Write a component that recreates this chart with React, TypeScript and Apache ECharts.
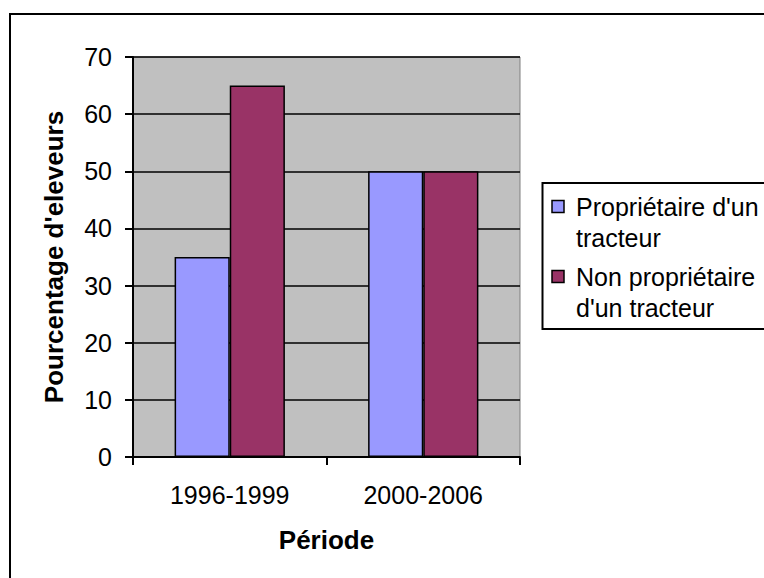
import React, { useEffect, useRef } from "react";
import * as echarts from "echarts";

const categories = ["1996-1999", "2000-2006"];
const seriesNames = ["Propriétaire d'un tracteur", "Non propriétaire d'un tracteur"];
const legendLabels = ["Propriétaire d'un\ntracteur", "Non propriétaire\nd'un tracteur"];
const seriesColors = ["#9999FF", "#993366"];
const ownerValues = [35, 50];
const nonOwnerValues = [65, 50];
const yTitle = "Pourcentage d'eleveurs";
const xTitle = "Période";

const FONT = "'Liberation Sans', Arial, sans-serif";

export default function App() {
  const ref = useRef<HTMLDivElement>(null);
  useEffect(() => {
    if (!ref.current) return;
    const chart = echarts.init(ref.current, undefined, { renderer: "svg" });
    const seriesData = [ownerValues, nonOwnerValues];

    const legendGraphics: any[] = [
      {
        type: "rect",
        shape: { x: 542.5, y: 183, width: 320, height: 146 },
        style: { fill: "#fff", stroke: "#000", lineWidth: 2 },
        z: 10,
      },
    ];
    const itemTops = [191.5, 261.5];
    legendLabels.forEach((lbl, i) => {
      legendGraphics.push({
        type: "rect",
        shape: { x: 552, y: itemTops[i] + 9, width: 12, height: 12 },
        style: { fill: seriesColors[i], stroke: "#000", lineWidth: 1.5 },
        z: 11,
      });
      legendGraphics.push({
        type: "text",
        x: 576,
        y: itemTops[i],
        style: {
          text: lbl,
          font: `25px ${FONT}`,
          fill: "#000",
          lineHeight: 31,
          verticalAlign: "top",
          align: "left",
        },
        z: 11,
      });
    });

    chart.setOption({
      animation: false,
      backgroundColor: "#fff",
      textStyle: { fontFamily: FONT },
      grid: {
        left: 133,
        top: 57,
        width: 387,
        height: 400,
        show: true,
        backgroundColor: "#C0C0C0",
        borderColor: "#808080",
        borderWidth: 1,
        containLabel: false,
      },
      xAxis: {
        type: "category",
        data: categories,
        name: xTitle,
        nameLocation: "middle",
        nameGap: 70,
        nameTextStyle: { fontSize: 26, fontWeight: "bold", color: "#000", fontFamily: FONT },
        axisLine: { show: true, lineStyle: { color: "#000", width: 2 } },
        axisTick: { show: true, length: 8, lineStyle: { color: "#000", width: 2 } },
        axisLabel: { fontSize: 25, color: "#000", margin: 25, fontFamily: FONT },
      },
      yAxis: {
        type: "value",
        min: 0,
        max: 70,
        interval: 10,
        name: yTitle,
        nameLocation: "middle",
        nameGap: 66,
        nameTextStyle: { fontSize: 26, fontWeight: "bold", color: "#000", fontFamily: FONT },
        axisLine: { show: true, lineStyle: { color: "#000", width: 2 } },
        axisTick: { show: true, length: 8, lineStyle: { color: "#000", width: 2 } },
        axisLabel: { fontSize: 25, color: "#000", margin: 21, fontFamily: FONT },
        splitLine: { show: true, lineStyle: { color: "#000", width: 1.5 } },
      },
      series: seriesNames.map((name, i) => ({
        type: "bar",
        name,
        data: seriesData[i],
        barGap: "0%",
        barCategoryGap: "43%",
        itemStyle: { color: seriesColors[i], borderColor: "#000", borderWidth: 1.5 },
      })),
      graphic: [
        {
          type: "rect",
          shape: { x: 10, y: 14, width: 820, height: 620 },
          style: { fill: "none", stroke: "#000", lineWidth: 2 },
          z: 0,
          silent: true,
        },
        ...legendGraphics,
      ],
    });
    return () => chart.dispose();
  }, []);
  return (
    <div
      ref={ref}
      style={{ position: "fixed", left: 0, top: 0, width: 764, height: 578 }}
    />
  );
}
